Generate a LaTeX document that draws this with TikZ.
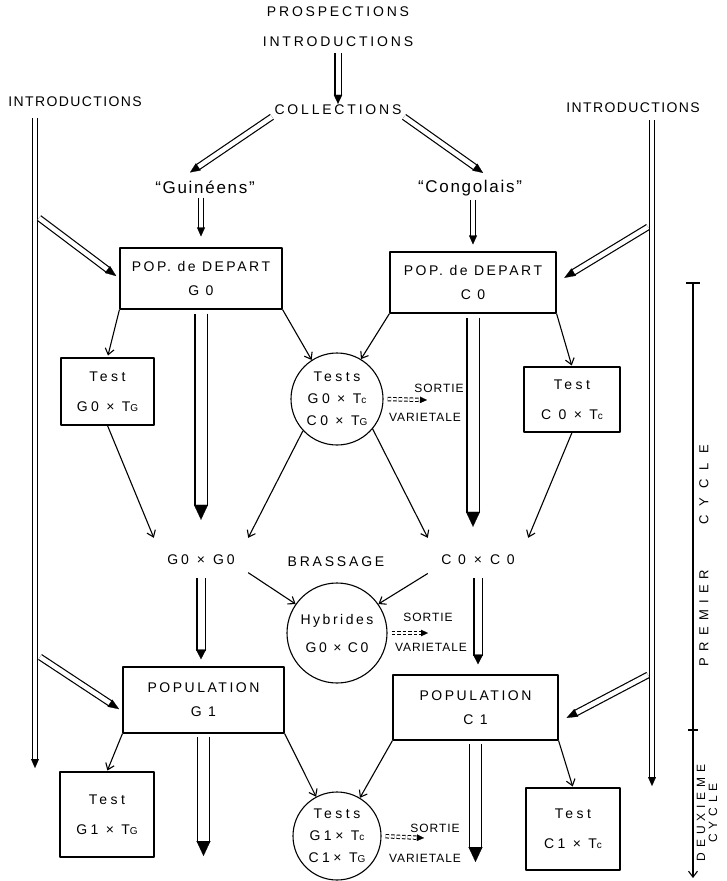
\documentclass[tikz,border=0pt]{standalone}
\usepackage{fontspec}
\setmainfont{Liberation Sans}
\newfontfamily\lsA{Liberation Sans}[LetterSpace=20]
\newfontfamily\lsS{Liberation Sans}[LetterSpace=10]
\newfontfamily\lsBox{Liberation Sans}[LetterSpace=18]
\newfontfamily\lsB{Liberation Sans}[LetterSpace=10]
\newfontfamily\lsC{Liberation Sans}[LetterSpace=25]
\newfontfamily\lsH{Liberation Sans}[LetterSpace=18]
\newfontfamily\lsD{Liberation Sans}[LetterSpace=8]
\newfontfamily\lsE{Liberation Sans}[LetterSpace=70]
\newfontfamily\lsG{Liberation Sans}[LetterSpace=48]
\newfontfamily\lsF{Liberation Sans}[LetterSpace=40]
\usetikzlibrary{arrows.meta,calc}
\newcommand\subsm[1]{{\fontsize{10}{10}\selectfont #1}}
% hollow double arrow: #1 double distance, #2 head length, #3 head width, #4 shorten start, #5 shorten end, #6 path
\newcommand\harrow[6]{%
  \draw[shaft=#1, shorten <=#4, shorten >={#5+#2-1.5pt}] #6;
  \draw[head={#2}{#3}, shorten <=#4, shorten >=#5] #6;}
\newcommand\sarrow[1]{%
  \draw[dshaft, shorten <=4pt, shorten >=6pt] #1;
  \draw[head={7pt}{6.5pt}, shorten <=4pt] #1;}
\begin{document}
\begin{tikzpicture}[x=1pt, y=-1pt, line join=round,
  lbl/.style={inner sep=0pt, font=\lsA\fontsize{14}{16}\selectfont},
  sidelbl/.style={inner sep=0pt, font=\lsS\fontsize{14}{16}\selectfont},
  quot/.style={inner sep=0pt, font=\lsB\fontsize{17}{19}\selectfont},
  boxn/.style={draw, line width=1.1pt, align=center, inner sep=0pt, font=\lsBox\fontsize{14}{24}\selectfont},
  tbox/.style={draw, line width=1.1pt, align=center, inner sep=0pt, font=\lsC\fontsize{14}{30}\selectfont},
  circn/.style={draw, circle, line width=1.1pt, align=center, inner sep=0pt, font=\lsC\fontsize{14}{22}\selectfont},
  sortie/.style={inner sep=0pt, font=\lsD\fontsize{12}{14}\selectfont},
  rotA/.style={inner sep=0pt, rotate=90, font=\lsE\fontsize{13}{15}\selectfont},
  rotB/.style={inner sep=0pt, rotate=90, font=\lsG\fontsize{13}{15}\selectfont},
  rottwo/.style={inner sep=0pt, rotate=90, align=center, font=\lsF\fontsize{12}{12}\selectfont},
  arr/.style={line width=1.1pt, -{Straight Barb[length=6pt,width=9pt]}},
  shaft/.style={line width=1.2pt, double, double distance=#1},
  head/.style 2 args={draw=white, line width=0.2pt, -{Triangle[length=#1,width=#2,color=black,fill=black]}},
  dshaft/.style={line width=1pt, double, double distance=2.4pt, dash pattern=on 3.5pt off 2pt},
  scale line/.style={line width=1.1pt}
]
\fill[white] (0,0) rectangle (726,881);
\useasboundingbox (0,0) rectangle (726,881);

% ---- text labels ----
\node[lbl] (prosp) at (338,12) {PROSPECTIONS};
\node[lbl] (intro) at (338,42) {INTRODUCTIONS};
\node[lbl] (coll) at (338,110) {COLLECTIONS};
\node[sidelbl] (introL) at (75,102) {INTRODUCTIONS};
\node[sidelbl] (introR) at (633,108) {INTRODUCTIONS};
\node[quot] (guin) at (205,187) {“Guinéens”};
\node[quot] (cong) at (470,188) {“Congolais”};

% ---- boxes ----
\node[boxn, minimum width=162, minimum height=61] (gbox) at (201,278.5) {POP. de DEPART\\G 0};
\node[boxn, minimum width=166, minimum height=61] (cbox) at (473,282.5) {POP. de DEPART\\C 0};
\node[tbox, minimum width=93, minimum height=67] (tg) at (107.5,391.5) {Test\\G0 × T\subsm{G}};
\node[tbox, minimum width=96, minimum height=65] (tc) at (572,399.5) {Test\\C 0 × T\subsm{c}};
\node[circn, minimum size=92] (t1) at (337,399) {Tests\\G0 × T\subsm{c}\\C0 × T\subsm{G}};

\node[lbl, minimum width=94, minimum height=44] (gg) at (201,560) {G0\hspace{8pt}×\hspace{8pt}G0};
\node[lbl] (brass) at (336,562) {BRASSAGE};
\node[lbl, minimum width=100, minimum height=44] (cc) at (478,560) {C 0\hspace{8pt}×\hspace{8pt}C 0};
\node[circn, minimum size=100, font=\lsH\fontsize{14}{28}\selectfont] (hyb) at (337,633) {Hybrides\\G0 × C0};

\node[boxn, minimum width=161, minimum height=66] (gpop) at (203.5,700) {POPULATION\\G 1};
\node[boxn, minimum width=165, minimum height=65] (cpop) at (475.5,707.5) {POPULATION\\C 1};
\node[tbox, minimum width=94, minimum height=85] (tg2) at (107,814.5) {Test\\G1 × T\subsm{G}};
\node[tbox, minimum width=94, minimum height=82] (tc2) at (573,829) {Test\\C1 × T\subsm{c}};
\node[circn, minimum size=88] (t2) at (337,836) {Tests\\G1× T\subsm{c}\\C1× T\subsm{G}};

\node[sortie] (s1) at (439,388) {SORTIE};
\node[sortie] (v1) at (425,417) {VARIETALE};
\node[sortie] (s2) at (428,617) {SORTIE};
\node[sortie] (v2) at (431,647) {VARIETALE};
\node[sortie] (s3) at (435,828) {SORTIE};
\node[sortie] (v3) at (425,858) {VARIETALE};

\node[rotA] (cyc1) at (704,485) {CYCLE};
\node[rotB] (prem) at (704,618) {PREMIER};
\node[rottwo] (deux) at (707,813) {DEUXIEME\\CYCLE};

% ---- coordinates for free ends ----
\coordinate (lvtop) at (35,118);
\coordinate (lvbot) at (35,768);
\coordinate (rvtop) at (652,120);
\coordinate (rvbot) at (652,786);
\coordinate (lf1) at (39,218);
\coordinate (rf1) at (648,227);
\coordinate (lf2) at (40,657);
\coordinate (rf2) at (648,675);
\coordinate (gend) at (205,856);
\coordinate (cend) at (477,862);
\coordinate (so1) at (427,400);
\coordinate (so2) at (428,633);
\coordinate (so3) at (424,838);
\coordinate (sctop) at (693,283);
\coordinate (scmid) at (693,730);
\coordinate (scbot) at (693,878);

% ---- hollow double arrows ----
\harrow{5pt}{9pt}{8.5pt}{6pt}{1pt}{(intro.south) -- (coll.north)}
\harrow{4.5pt}{10pt}{8.5pt}{3pt}{0pt}{(coll.south west) -- ($(guin.north)+(-15,-8)$)}
\harrow{4.5pt}{10pt}{8.5pt}{3pt}{0pt}{(coll.south east) -- ($(cong.north)+(13,-7)$)}
\harrow{4.5pt}{9pt}{8pt}{4pt}{11pt}{(gbox.north |- guin.south) -- (gbox.north)}
\harrow{4.5pt}{9pt}{8pt}{4pt}{7pt}{(cbox.north |- cong.south) -- (cbox.north)}

\harrow{4.5pt}{9pt}{8pt}{0pt}{0pt}{(lvtop) -- (lvbot)}
\harrow{4.5pt}{9pt}{8pt}{0pt}{0pt}{(rvtop) -- (rvbot)}
\harrow{4.5pt}{11pt}{8.5pt}{0pt}{4pt}{(lf1) -- (gbox.west)}
\harrow{4.5pt}{11pt}{8.5pt}{0pt}{9pt}{(rf1) -- (cbox.east)}
\harrow{4.5pt}{11pt}{8.5pt}{0pt}{4pt}{(lf2) -- (gpop.188)}
\harrow{4.5pt}{11pt}{8.5pt}{0pt}{9pt}{(rf2) -- (cpop.-10)}

\harrow{11pt}{15pt}{14pt}{4pt}{18pt}{(gbox.south) -- (gbox.south |- gg.north)}
\harrow{11pt}{15pt}{14pt}{4pt}{11pt}{(cbox.south) -- (cbox.south |- cc.north)}
\harrow{7pt}{10pt}{10pt}{-4pt}{7pt}{(gg.south) -- (gg.south |- gpop.north)}
\harrow{7pt}{10pt}{10pt}{-4pt}{10pt}{(cc.south) -- (cc.south |- cpop.north)}
\harrow{11pt}{15pt}{14pt}{3pt}{0pt}{(gpop.south) -- (gpop.south |- gend)}
\harrow{11pt}{15pt}{14pt}{3pt}{0pt}{(cpop.south) -- (cpop.south |- cend)}

% ---- thin arrows ----
\draw[arr, shorten >=2pt] (gbox.south west) -- (tg.north);
\draw[arr] (gbox.south east) -- (t1.123);
\draw[arr] (cbox.south west) -- (t1.59);
\draw[arr, shorten >=1pt] (cbox.south east) -- (tc.north);
\draw[arr] (tg.south) -- (gg.north west);
\draw[arr] (t1.223) -- (gg.north east);
\draw[arr] (t1.320) -- (cc.north west);
\draw[arr] (tc.south) -- (cc.north east);
\draw[arr] (gg.-15) -- (hyb.145);
\draw[arr] (cc.195) -- (hyb.35);
\draw[arr, shorten >=1pt] (gpop.south west) -- (tg2.north);
\draw[arr] (gpop.south east) -- (t2.118);
\draw[arr] (cpop.south west) -- (t2.59);
\draw[arr, shorten >=1pt] (cpop.south east) -- (tc2.north);

% ---- dashed outputs ----
\sarrow{(t1.east) -- (so1)}
\sarrow{(hyb.east) -- (so2)}
\sarrow{(t2.east) -- (so3)}

% ---- cycle scale ----
\draw[scale line, -{Straight Barb[length=6pt,width=9pt]}] (sctop) -- (scbot);
\draw[scale line] ($(sctop)+(-7,0)$) -- ($(sctop)+(7,0)$);
\draw[scale line] ($(scmid)+(-5,0)$) -- ($(scmid)+(5,0)$);
\end{tikzpicture}
\end{document}
